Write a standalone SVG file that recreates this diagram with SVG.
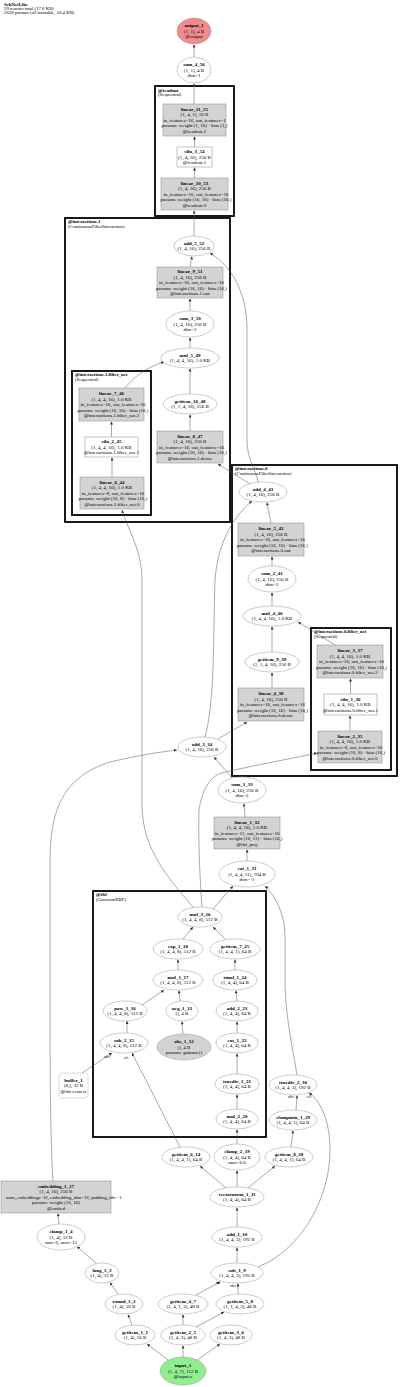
<svg xmlns="http://www.w3.org/2000/svg" width="400" height="1387" viewBox="0 0 400 1387">
<defs>
<marker id="ah" viewBox="0 0 10 10" refX="10" refY="5" markerWidth="3" markerHeight="3" markerUnits="userSpaceOnUse" orient="auto"><path d="M0,0 L10,5 L0,10 z" fill="#333"/></marker>
<style>
text{font-family:"Liberation Serif","Times New Roman",serif;font-size:5px;text-anchor:middle;dominant-baseline:central;fill:#000}
.b{font-weight:bold}
.h{text-anchor:start;font-size:4.8px}
.cl{text-anchor:start;font-size:4.8px}
.el{font-size:3px}
.n ellipse{fill:#fff;stroke:#999;stroke-width:0.5}
.n rect{fill:#d3d3d3;stroke:#888;stroke-width:0.5}
.n rect.w{fill:#fff}
.cluster rect{fill:none;stroke:#000;stroke-width:1.8}
#edges path{fill:none;stroke:#555;stroke-width:0.5;marker-end:url(#ah)}
</style>
</defs>
<rect width="400" height="1387" fill="#fff"/>
<g id="header">
<text class="h b" x="4" y="4">SchNetLike</text>
<text class="h" x="4" y="8.4">59 tensors total (17.6 KB)</text>
<text class="h" x="4" y="12.8">2658 params (all trainable, 10.4 KB)</text>
</g>
<g id="clusters" class="cluster">
<g id="cl_readout"><rect x="155" y="86" width="79" height="130"/><text class="cl b" x="158" y="90">@readout</text><text class="cl" x="158" y="94.5">(Sequential)</text></g>
<g id="cl_int1"><rect x="65" y="218" width="165" height="304"/><text class="cl b" x="68" y="221.5">@interactions.1</text><text class="cl" x="68" y="226">(ContinuousFilterInteraction)</text></g>
<g id="cl_int1_fn"><rect x="72" y="371" width="79" height="144"/><text class="cl b" x="75" y="374.5">@interactions.1.filter_net</text><text class="cl" x="75" y="379">(Sequential)</text></g>
<g id="cl_int0"><rect x="232" y="465" width="165" height="311"/><text class="cl b" x="235" y="468.5">@interactions.0</text><text class="cl" x="235" y="473">(ContinuousFilterInteraction)</text></g>
<g id="cl_int0_fn"><rect x="311" y="628" width="80" height="142"/><text class="cl b" x="314" y="631.5">@interactions.0.filter_net</text><text class="cl" x="314" y="636">(Sequential)</text></g>
<g id="cl_rbf"><rect x="93" y="891" width="173" height="246"/><text class="cl b" x="96" y="894.5">@rbf</text><text class="cl" x="96" y="899">(GaussianRBF)</text></g>
</g>
<g id="edges">
<path d="M194,57 L194,44.5"/>
<path d="M194,104 L194,83.5"/>
<path d="M194.5,147 L194.5,136.5"/>
<path d="M194.5,178 L194.5,167.5"/>
<path d="M194,236 L194,210.5"/>
<path d="M190,267 L192,256.5"/>
<path d="M190,311 L190,298.5"/>
<path d="M190,348 L190,337.5"/>
<path d="M190,394 L190,368.5"/>
<path d="M190,431 L190,414.5"/>
<path d="M125,388 C135,375 150,366 164,362"/>
<path d="M111.5,437 L111.5,421.5"/>
<path d="M112,477 L112,457.5"/>
<path d="M193,907 C170,880 142,850 142,805 L142,580 C142,550 128,530 122,510"/>
<path d="M250,484 L218,464"/>
<path d="M258,482 C256,470 247,460 247,440 L247,330 C247,290 230,265 210,253"/>
<path d="M271,523 L267,502.5"/>
<path d="M272,566 L272,556.5"/>
<path d="M272,606 L272,592.5"/>
<path d="M272,652 L272,626.5"/>
<path d="M272,688 L272,672.5"/>
<path d="M335,645 L298,622"/>
<path d="M350.5,694 L350.5,678.5"/>
<path d="M350,731 L350,715.5"/>
<path d="M218,739 L247,722"/>
<path d="M205,737 C215,700 213,640 215,580 C218,540 235,515 252,501"/>
<path d="M232,778 L214,757"/>
<path d="M245,817 L244,803.5"/>
<path d="M247,861 L247,849.5"/>
<path d="M213,909 L233,886"/>
<path d="M297,1075 C293,1050 286,1020 285,985 L285,935 C285,915 275,895 265,886"/>
<path d="M202,907 C200,880 198,840 199,810 C202,790 210,776 222,773 C245,767 290,759 317,753"/>
<path d="M53,1181 C51,1150 50,1100 50,1000 L50,860 C50,800 70,775 110,762 C140,755 160,752 177,750"/>
<path d="M183,939 L193,927"/>
<path d="M225,939 L213,927"/>
<path d="M178,970 L178,959.5"/>
<path d="M235,970 L235,959.5"/>
<path d="M142,1005 L164,990"/>
<path d="M180,1001 L179,990.5"/>
<path d="M237,1001 L236,990.5"/>
<path d="M127,1033 L127,1021"/>
<path d="M183,1034 L182,1021.5"/>
<path d="M237,1033 L237,1021.5"/>
<path d="M237,1074 L237,1053.5"/>
<path d="M237,1109 L237,1094.5"/>
<path d="M237,1144 L237,1129.5"/>
<path d="M82,1073 L112,1053"/>
<path d="M180,1147 L132,1053"/>
<path d="M226,1188 L200,1166"/>
<path d="M237,1187 L237,1170.5"/>
<path d="M248,1188 L275,1166"/>
<path d="M291,1147 L293,1130.5"/>
<path d="M296,1110 L297,1095.5"/>
<path d="M258,1267 C300,1250 330,1200 330,1150 C330,1120 320,1100 309,1093"/>
<path d="M237,1227 L237,1207.5"/>
<path d="M237,1263 L237,1247.5"/>
<path d="M196,1295 L220,1282"/>
<path d="M238,1294 L238,1283.5"/>
<path d="M183,1325 L183,1314.5"/>
<path d="M196,1327 L224,1312"/>
<path d="M168,1360 L147,1344"/>
<path d="M183,1357 L183,1345.5"/>
<path d="M197,1360 L220,1344"/>
<path d="M132,1325 L128,1314.5"/>
<path d="M118,1294 L110,1282.5"/>
<path d="M96,1263 L77,1246.5"/>
<path d="M59,1224 L58,1213.5"/>
<text class="el" x="107" y="1057">other</text>
<text class="el" x="126" y="1058">self</text>
<text class="el" x="291" y="1097">other</text>
<text class="el" x="309" y="1097">self</text>
<text class="el" x="218" y="1283">self</text>
<text class="el" x="233" y="1286">other</text>
</g>
<g id="nodes" class="n">
<g id="output_1"><ellipse cx="194" cy="31" rx="17" ry="13" style="fill:#f28b8b"/><text class="b" x="194" y="25.5">output_1</text><text x="194" y="31">(1, 1), 4 B</text><text x="194" y="36.5">@output</text></g>
<g id="sum_4_56"><ellipse cx="194" cy="70" rx="17" ry="13"/><text class="b" x="194" y="64.5">sum_4_56</text><text x="194" y="70">(1, 1), 4 B</text><text x="194" y="75.5">dim=1</text></g>
<g id="linear_11_55"><rect x="163" y="104" width="63" height="32"/><text class="b" x="194.5" y="109">linear_11_55</text><text x="194.5" y="114.5">(1, 4, 1), 16 B</text><text x="194.5" y="120">in_features=16, out_features=1</text><text x="194.5" y="125.5">params: weight (1, 16) · bias (1,)</text><text x="194.5" y="131">@readout.2</text></g>
<g id="silu_3_54"><rect class="w" x="177" y="147" width="35" height="20"/><text class="b" x="194.5" y="151.5">silu_3_54</text><text x="194.5" y="157">(1, 4, 16), 256 B</text><text x="194.5" y="162.5">@readout.1</text></g>
<g id="linear_10_53"><rect x="161" y="178" width="67" height="32"/><text class="b" x="194.5" y="183">linear_10_53</text><text x="194.5" y="188.5">(1, 4, 16), 256 B</text><text x="196" y="194">in_features=16, out_features=16</text><text x="196" y="199.5">params: weight (16, 16) · bias (16,)</text><text x="194.5" y="205">@readout.0</text></g>
<g id="add_5_52"><ellipse cx="194" cy="246" rx="20" ry="10"/><text class="b" x="194" y="243.25">add_5_52</text><text x="194" y="248.75">(1, 4, 16), 256 B</text></g>
<g id="linear_9_51"><rect x="157" y="267" width="66" height="31"/><text class="b" x="190" y="271.5">linear_9_51</text><text x="190" y="277">(1, 4, 16), 256 B</text><text x="191.5" y="282.5">in_features=16, out_features=16</text><text x="191.5" y="288">params: weight (16, 16) · bias (16,)</text><text x="190" y="293.5">@interactions.1.out</text></g>
<g id="sum_3_50"><ellipse cx="190" cy="324" rx="24" ry="13"/><text class="b" x="190" y="318.5">sum_3_50</text><text x="190" y="324">(1, 4, 16), 256 B</text><text x="190" y="329.5">dim=2</text></g>
<g id="mul_5_49"><ellipse cx="190" cy="358" rx="29" ry="10"/><text class="b" x="190" y="355.25">mul_5_49</text><text x="190" y="360.75">(1, 4, 4, 16), 1.0 KB</text></g>
<g id="getitem_10_48"><ellipse cx="190" cy="404" rx="27" ry="10"/><text class="b" x="190" y="401.25">getitem_10_48</text><text x="190" y="406.75">(1, 1, 4, 16), 256 B</text></g>
<g id="linear_8_47"><rect x="157" y="431" width="66" height="32"/><text class="b" x="190" y="436">linear_8_47</text><text x="190" y="441.5">(1, 4, 16), 256 B</text><text x="191.5" y="447">in_features=16, out_features=16</text><text x="191.5" y="452.5">params: weight (16, 16) · bias (16,)</text><text x="190" y="458">@interactions.1.dense</text></g>
<g id="linear_7_46"><rect x="79" y="388" width="65" height="33"/><text class="b" x="111.5" y="393.5">linear_7_46</text><text x="111.5" y="399">(1, 4, 4, 16), 1.0 KB</text><text x="113" y="404.5">in_features=16, out_features=16</text><text x="113" y="410">params: weight (16, 16) · bias (16,)</text><text x="111.5" y="415.5">@interactions.1.filter_net.2</text></g>
<g id="silu_2_45"><rect class="w" x="85" y="437" width="53" height="20"/><text class="b" x="111.5" y="441.5">silu_2_45</text><text x="111.5" y="447">(1, 4, 4, 16), 1.0 KB</text><text x="111.5" y="452.5">@interactions.1.filter_net.1</text></g>
<g id="linear_6_44"><rect x="80" y="477" width="64" height="32"/><text class="b" x="112" y="482">linear_6_44</text><text x="112" y="487.5">(1, 4, 4, 16), 1.0 KB</text><text x="113" y="493">in_features=8, out_features=16</text><text x="113" y="498.5">params: weight (16, 8) · bias (16,)</text><text x="112" y="504">@interactions.1.filter_net.0</text></g>
<g id="add_4_43"><ellipse cx="263" cy="492" rx="24" ry="10"/><text class="b" x="263" y="489.25">add_4_43</text><text x="263" y="494.75">(1, 4, 16), 256 B</text></g>
<g id="linear_5_42"><rect x="238" y="523" width="66" height="33"/><text class="b" x="271" y="528.5">linear_5_42</text><text x="271" y="534">(1, 4, 16), 256 B</text><text x="272.5" y="539.5">in_features=16, out_features=16</text><text x="272.5" y="545">params: weight (16, 16) · bias (16,)</text><text x="271" y="550.5">@interactions.0.out</text></g>
<g id="sum_2_41"><ellipse cx="272" cy="579" rx="24" ry="13"/><text class="b" x="272" y="573.5">sum_2_41</text><text x="272" y="579">(1, 4, 16), 256 B</text><text x="272" y="584.5">dim=2</text></g>
<g id="mul_4_40"><ellipse cx="272" cy="616" rx="29" ry="10"/><text class="b" x="272" y="613.25">mul_4_40</text><text x="272" y="618.75">(1, 4, 4, 16), 1.0 KB</text></g>
<g id="getitem_9_39"><ellipse cx="272" cy="662" rx="27" ry="10"/><text class="b" x="272" y="659.25">getitem_9_39</text><text x="272" y="664.75">(1, 1, 4, 16), 256 B</text></g>
<g id="linear_4_38"><rect x="238" y="688" width="66" height="33"/><text class="b" x="271" y="693.5">linear_4_38</text><text x="271" y="699">(1, 4, 16), 256 B</text><text x="272.5" y="704.5">in_features=16, out_features=16</text><text x="272.5" y="710">params: weight (16, 16) · bias (16,)</text><text x="271" y="715.5">@interactions.0.dense</text></g>
<g id="linear_3_37"><rect x="317" y="645" width="66" height="33"/><text class="b" x="350" y="650.5">linear_3_37</text><text x="350" y="656">(1, 4, 4, 16), 1.0 KB</text><text x="351.5" y="661.5">in_features=16, out_features=16</text><text x="351.5" y="667">params: weight (16, 16) · bias (16,)</text><text x="350" y="672.5">@interactions.0.filter_net.2</text></g>
<g id="silu_1_36"><rect class="w" x="324" y="694" width="53" height="21"/><text class="b" x="350.5" y="699">silu_1_36</text><text x="350.5" y="704.5">(1, 4, 4, 16), 1.0 KB</text><text x="350.5" y="710">@interactions.0.filter_net.1</text></g>
<g id="linear_2_35"><rect x="318" y="731" width="64" height="32"/><text class="b" x="350" y="736">linear_2_35</text><text x="350" y="741.5">(1, 4, 4, 16), 1.0 KB</text><text x="351" y="747">in_features=8, out_features=16</text><text x="351" y="752.5">params: weight (16, 8) · bias (16,)</text><text x="350" y="758">@interactions.0.filter_net.0</text></g>
<g id="add_3_34"><ellipse cx="202" cy="747" rx="24" ry="10"/><text class="b" x="202" y="744.25">add_3_34</text><text x="202" y="749.75">(1, 4, 16), 256 B</text></g>
<g id="sum_1_33"><ellipse cx="242" cy="790" rx="24" ry="13"/><text class="b" x="242" y="784.5">sum_1_33</text><text x="242" y="790">(1, 4, 16), 256 B</text><text x="242" y="795.5">dim=2</text></g>
<g id="linear_1_32"><rect x="214" y="817" width="66" height="32"/><text class="b" x="247" y="822">linear_1_32</text><text x="247" y="827.5">(1, 4, 4, 16), 1.0 KB</text><text x="247" y="833">in_features=11, out_features=16</text><text x="247" y="838.5">params: weight (16, 11) · bias (16,)</text><text x="247" y="844">@rbf_proj</text></g>
<g id="cat_1_31"><ellipse cx="247" cy="874" rx="28" ry="13"/><text class="b" x="247" y="868.5">cat_1_31</text><text x="247" y="874">(1, 4, 4, 11), 704 B</text><text x="247" y="879.5">dim=-1</text></g>
<g id="mul_3_26"><ellipse cx="200" cy="917" rx="22" ry="10"/><text class="b" x="200" y="914.25">mul_3_26</text><text x="200" y="919.75">(1, 4, 4, 8), 512 B</text></g>
<g id="exp_1_18"><ellipse cx="178" cy="949" rx="25" ry="10"/><text class="b" x="178" y="946.25">exp_1_18</text><text x="178" y="951.75">(1, 4, 4, 8), 512 B</text></g>
<g id="getitem_7_25"><ellipse cx="235" cy="949" rx="25" ry="10"/><text class="b" x="235" y="946.25">getitem_7_25</text><text x="235" y="951.75">(1, 4, 4, 1), 64 B</text></g>
<g id="mul_1_17"><ellipse cx="178" cy="980" rx="25" ry="10"/><text class="b" x="178" y="977.25">mul_1_17</text><text x="178" y="982.75">(1, 4, 4, 8), 512 B</text></g>
<g id="rmul_1_24"><ellipse cx="235" cy="980" rx="22" ry="10"/><text class="b" x="235" y="977.25">rmul_1_24</text><text x="235" y="982.75">(1, 4, 4), 64 B</text></g>
<g id="pow_1_16"><ellipse cx="125" cy="1011" rx="22" ry="10"/><text class="b" x="125" y="1008.25">pow_1_16</text><text x="125" y="1013.75">(1, 4, 4, 8), 512 B</text></g>
<g id="neg_1_13"><ellipse cx="182" cy="1011" rx="16" ry="10"/><text class="b" x="182" y="1008.25">neg_1_13</text><text x="182" y="1013.75">(), 4 B</text></g>
<g id="add_2_23"><ellipse cx="237" cy="1011" rx="21" ry="10"/><text class="b" x="237" y="1008.25">add_2_23</text><text x="237" y="1013.75">(1, 4, 4), 64 B</text></g>
<g id="sub_2_15"><ellipse cx="124" cy="1043" rx="24" ry="10"/><text class="b" x="124" y="1040.25">sub_2_15</text><text x="124" y="1045.75">(1, 4, 4, 8), 512 B</text></g>
<g id="abs_1_12"><ellipse cx="184" cy="1047" rx="27" ry="13" style="fill:#d3d3d3"/><text class="b" x="184" y="1041.5">abs_1_12</text><text x="184" y="1047">(), 4 B</text><text x="184" y="1052.5">params: gamma ()</text></g>
<g id="cos_1_22"><ellipse cx="237" cy="1043" rx="21" ry="10"/><text class="b" x="237" y="1040.25">cos_1_22</text><text x="237" y="1045.75">(1, 4, 4), 64 B</text></g>
<g id="truediv_1_21"><ellipse cx="237" cy="1084" rx="22" ry="10"/><text class="b" x="237" y="1081.25">truediv_1_21</text><text x="237" y="1086.75">(1, 4, 4), 64 B</text></g>
<g id="mul_2_20"><ellipse cx="237" cy="1119" rx="21" ry="10"/><text class="b" x="237" y="1116.25">mul_2_20</text><text x="237" y="1121.75">(1, 4, 4), 64 B</text></g>
<g id="buffer_1"><rect x="59" y="1073" width="29" height="25" rx="3" style="fill:#fff;stroke-dasharray:1.5,1"/><text class="b" x="73.5" y="1080">buffer_1</text><text x="73.5" y="1085.5">(8,), 32 B</text><text x="73.5" y="1091">@rbf.centers</text></g>
<g id="truediv_2_30"><ellipse cx="293" cy="1085" rx="24" ry="10"/><text class="b" x="293" y="1082.25">truediv_2_30</text><text x="293" y="1087.75">(1, 4, 4, 3), 192 B</text></g>
<g id="clampmin_1_29"><ellipse cx="293" cy="1120" rx="24" ry="10"/><text class="b" x="293" y="1117.25">clampmin_1_29</text><text x="293" y="1122.75">(1, 4, 4, 1), 64 B</text></g>
<g id="getitem_6_14"><ellipse cx="186" cy="1157" rx="24" ry="10"/><text class="b" x="186" y="1154.25">getitem_6_14</text><text x="186" y="1159.75">(1, 4, 4, 1), 64 B</text></g>
<g id="clamp_2_19"><ellipse cx="237" cy="1157" rx="23" ry="13"/><text class="b" x="237" y="1151.5">clamp_2_19</text><text x="237" y="1157">(1, 4, 4), 64 B</text><text x="237" y="1162.5">max=6.0</text></g>
<g id="getitem_8_28"><ellipse cx="289" cy="1157" rx="24" ry="10"/><text class="b" x="289" y="1154.25">getitem_8_28</text><text x="289" y="1159.75">(1, 4, 4, 1), 64 B</text></g>
<g id="vectornorm_1_11"><ellipse cx="237" cy="1197" rx="27" ry="10"/><text class="b" x="237" y="1194.25">vectornorm_1_11</text><text x="237" y="1199.75">(1, 4, 4), 64 B</text></g>
<g id="add_1_10"><ellipse cx="237" cy="1237" rx="25" ry="10"/><text class="b" x="237" y="1234.25">add_1_10</text><text x="237" y="1239.75">(1, 4, 4, 3), 192 B</text></g>
<g id="sub_1_9"><ellipse cx="237" cy="1273" rx="26" ry="10"/><text class="b" x="237" y="1270.25">sub_1_9</text><text x="237" y="1275.75">(1, 4, 4, 3), 192 B</text></g>
<g id="embedding_1_27"><rect x="1" y="1181" width="110" height="32"/><text class="b" x="56" y="1186">embedding_1_27</text><text x="56" y="1191.5">(1, 4, 16), 256 B</text><text x="64" y="1197" style="font-size:4.8px">num_embeddings=16, embedding_dim=16, padding_idx=-1</text><text x="56" y="1202.5">params: weight (16, 16)</text><text x="56" y="1208">@embed</text></g>
<g id="clamp_1_4"><ellipse cx="61" cy="1237" rx="24" ry="13"/><text class="b" x="61" y="1231.5">clamp_1_4</text><text x="61" y="1237">(1, 4), 32 B</text><text x="61" y="1242.5">min=0, max=15</text></g>
<g id="long_1_3"><ellipse cx="102" cy="1273" rx="17" ry="10"/><text class="b" x="102" y="1270.25">long_1_3</text><text x="102" y="1275.75">(1, 4), 32 B</text></g>
<g id="round_1_2"><ellipse cx="124" cy="1304" rx="19" ry="10"/><text class="b" x="124" y="1301.25">round_1_2</text><text x="124" y="1306.75">(1, 4), 16 B</text></g>
<g id="getitem_1_1"><ellipse cx="135" cy="1335" rx="20" ry="10"/><text class="b" x="135" y="1332.25">getitem_1_1</text><text x="135" y="1337.75">(1, 4), 16 B</text></g>
<g id="getitem_4_7"><ellipse cx="183" cy="1304" rx="25" ry="10"/><text class="b" x="183" y="1301.25">getitem_4_7</text><text x="183" y="1306.75">(1, 4, 1, 3), 48 B</text></g>
<g id="getitem_5_8"><ellipse cx="240" cy="1304" rx="24" ry="10"/><text class="b" x="240" y="1301.25">getitem_5_8</text><text x="240" y="1306.75">(1, 1, 4, 3), 48 B</text></g>
<g id="getitem_2_5"><ellipse cx="183" cy="1335" rx="22" ry="10"/><text class="b" x="183" y="1332.25">getitem_2_5</text><text x="183" y="1337.75">(1, 4, 3), 48 B</text></g>
<g id="getitem_3_6"><ellipse cx="231" cy="1335" rx="21" ry="10"/><text class="b" x="231" y="1332.25">getitem_3_6</text><text x="231" y="1337.75">(1, 4, 3), 48 B</text></g>
<g id="input_1"><ellipse cx="183" cy="1371" rx="23" ry="14" style="fill:#90ee90"/><text class="b" x="183" y="1365.5">input_1</text><text x="183" y="1371">(1, 4, 7), 112 B</text><text x="183" y="1376.5">@input.x</text></g>
</g>
</svg>
